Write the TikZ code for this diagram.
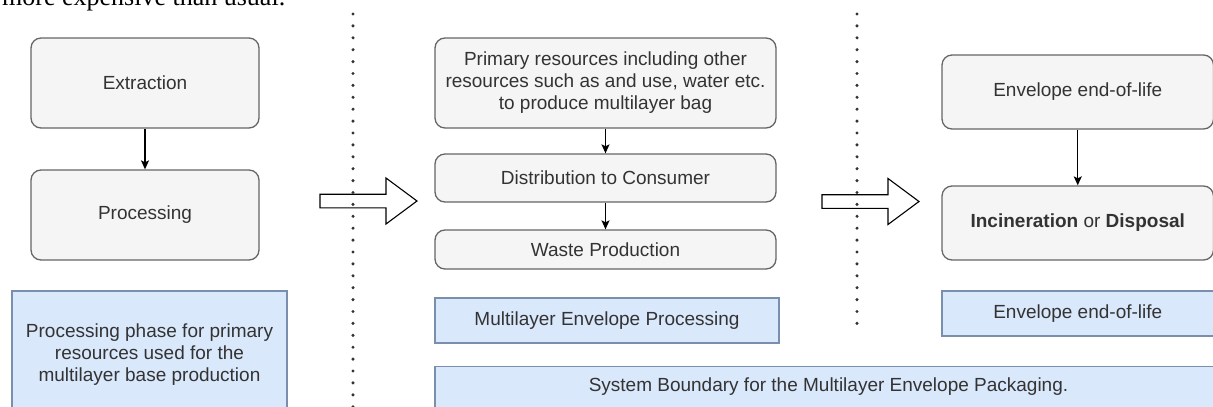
\documentclass[tikz,border=0pt]{standalone}
\usepackage{fontspec}
\setmainfont{Liberation Sans}
\newfontfamily\bodyserif{Liberation Serif}
\usetikzlibrary{arrows.meta}

\definecolor{boxfill}{HTML}{F5F5F5}
\definecolor{boxline}{HTML}{666666}
\definecolor{bluefill}{HTML}{DAE8FC}
\definecolor{blueline}{HTML}{7A8FAE}
\definecolor{txt}{HTML}{333333}

\begin{document}
\begin{tikzpicture}[x=1pt,y=-1pt,
  font=\fontsize{19}{22}\selectfont,
  greybox/.style={draw=boxline, fill=boxfill, rounded corners=10pt, line width=1.3pt,
                  text=txt, align=center, inner sep=0pt},
  lightbox/.style={draw=blueline, fill=bluefill, line width=1.3pt,
                   text=txt, align=center, inner sep=0pt},
  flow/.style={-{Stealth[length=9pt,width=8pt,inset=2pt]}, line width=1.4pt, black},
  sepline/.style={line width=3.4pt, dash pattern=on 0pt off 11.9pt, line cap=round, black!80},
  blockarrow/.pic={\draw[fill=white, line width=1.1pt, line join=miter]
      (0,-6.8) -- (66,-6.8) -- (66,-23) -- (97,0) -- (66,23) -- (66,6.8) -- (0,6.8) -- cycle;}]
\useasboundingbox (0,0) rectangle (1213,407);
\clip (0,0) rectangle (1213,407);

% running text of the page above the figure
\node[anchor=base west, inner sep=0pt, font=\bodyserif\fontsize{26}{30}\selectfont] (note)
  at (2,5) {more expensive than usual.};

% raw material column
\node[greybox, minimum width=228, minimum height=90] (ext) at (145,83) {Extraction};
\node[greybox, minimum width=228, minimum height=90] (proc) at (145,215) {Processing};
\node[lightbox, minimum width=275, minimum height=128] (phase) at (149.5,355)
  {Processing phase for primary\\resources used for the\\multilayer base production};
\draw[flow] (ext) -- (proc);

% manufacturing and use column
\node[greybox, minimum width=341, minimum height=90] (prim) at (605.5,83)
  {Primary resources including other\\resources such as and use, water etc.\\to produce multilayer bag};
\node[greybox, minimum width=341, minimum height=48] (dist) at (605.5,178) {Distribution to Consumer};
\node[greybox, minimum width=341, minimum height=39] (waste) at (605.5,249.5) {Waste Production};
\node[lightbox, minimum width=344, minimum height=45] (mep) at (607,320.5) {Multilayer Envelope Processing};
\draw[flow] (prim) -- (dist);
\draw[flow] (dist) -- (waste);

% end-of-life column
\node[greybox, minimum width=271.5, minimum height=74] (eol) at (1077.75,92) {Envelope end-of-life};
\node[greybox, minimum width=271.5, minimum height=74] (inc) at (1077.75,223)
  {\textbf{Incineration} or \textbf{Disposal}};
\node[lightbox, minimum width=271.5, minimum height=45] (eolb) at (1077.75,313.5) {Envelope end-of-life};
\draw[flow] (eol) -- (inc);

% overall boundary
\node[lightbox, minimum width=787, minimum height=64, anchor=north] (sys) at (828.5,366)
  {\raisebox{28pt}{System Boundary for the Multilayer Envelope Packaging.}};

% hollow arrows between phases
\pic at (320,201) {blockarrow};
\pic at (822,201.5) {blockarrow};

% phase separators
\draw[sepline] (353,14) -- (353,420);
\draw[sepline] (857,14) -- (857,330);
\end{tikzpicture}
\end{document}
